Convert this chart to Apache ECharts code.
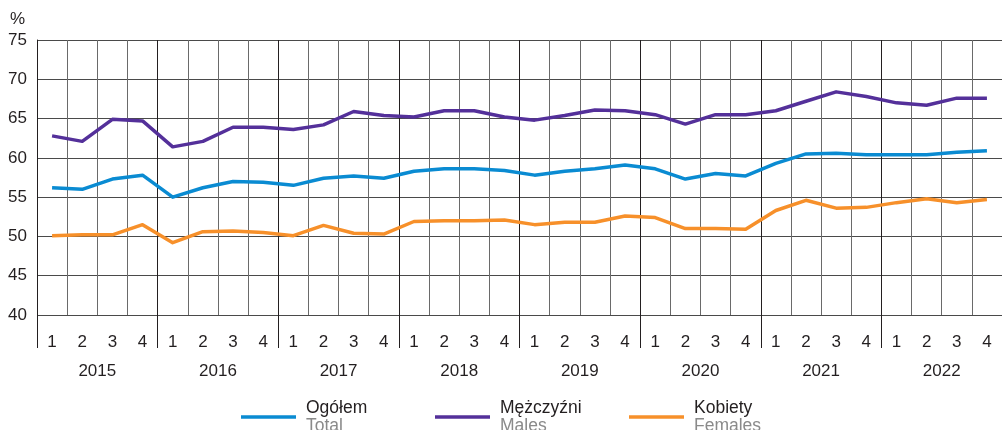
<!DOCTYPE html>
<html>
<head>
<meta charset="utf-8">
<script src="https://cdn.jsdelivr.net/npm/echarts@6/dist/echarts.min.js"></script>
<style>
html,body{margin:0;padding:0;background:#fff;}
#chart{width:1002px;height:430px;}
</style>
</head>
<body>
<div id="chart"></div>
<script>
var years = ['2015','2016','2017','2018','2019','2020','2021','2022'];
var quarters = ['1','2','3','4'];
var yTicks = [40,45,50,55,60,65,70,75];

var seriesNamesPl = ['Ogółem','Mężczyźni','Kobiety'];
var seriesNamesEn = ['Total','Males','Females'];

var total = [56.2,56.0,57.3,57.8,55.0,56.2,57.0,56.9,
             56.5,57.4,57.7,57.4,58.3,58.6,58.6,58.4,
             57.8,58.3,58.6,59.1,58.6,57.3,58.0,57.7,
             59.3,60.5,60.6,60.4,60.4,60.4,60.7,60.9];
var males = [62.8,62.1,64.9,64.7,61.4,62.1,63.9,63.9,
             63.6,64.2,65.9,65.4,65.2,66.0,66.0,65.2,
             64.8,65.4,66.1,66.0,65.5,64.3,65.5,65.5,
             66.0,67.2,68.4,67.8,67.0,66.7,67.6,67.6];
var females = [50.1,50.2,50.2,51.5,49.2,50.6,50.7,50.5,
               50.1,51.4,50.4,50.3,51.9,52.0,52.0,52.1,
               51.5,51.8,51.8,52.6,52.4,51.0,51.0,50.9,
               53.3,54.6,53.6,53.7,54.3,54.8,54.3,54.7];

var colors = ['#0a8bd2','#54309a','#f7902a'];

var categories = [];
years.forEach(function(y){ quarters.forEach(function(q){ categories.push(y + ' ' + q); }); });

var seriesData = [total, males, females];
var legendLefts = [241, 435, 629];

var chart = echarts.init(document.getElementById('chart'), null, {renderer:'canvas'});
var FONT = '"Liberation Sans", Arial, sans-serif';

var option = {
  animation: false,
  backgroundColor: '#ffffff',
  textStyle: {fontFamily: FONT},
  grid: {left: 37, right: -3, top: 40, bottom: 115, containLabel: false},
  graphic: [{
    type: 'text', left: 10, top: 11,
    style: {text: '%', fontSize: 17, fill: '#231f20', fontFamily: FONT}
  }],
  legend: seriesNamesPl.map(function(n, i){
    return {
      data: [n], left: legendLefts[i], top: 399, padding: 0,
      icon: 'rect', itemWidth: 55, itemHeight: 3.5,
      selectedMode: false,
      formatter: function(name){
        var k = seriesNamesPl.indexOf(name);
        return '{a|' + name + '}\n{b|' + seriesNamesEn[k] + '}';
      },
      textStyle: {
        fontFamily: FONT,
        rich: {
          a: {fontSize: 17.5, color: '#231f20', lineHeight: 18, padding: [0,0,0,5], fontFamily: FONT},
          b: {fontSize: 17.5, color: '#8a8a8a', lineHeight: 18, padding: [0,0,0,5], fontFamily: FONT}
        }
      }
    };
  }),
  xAxis: [{
    type: 'category',
    data: categories,
    boundaryGap: true,
    axisLine: {show: false},
    axisTick: {show: false},
    axisLabel: {
      interval: 0, margin: 19, fontSize: 17, color: '#231f20', fontFamily: FONT,
      formatter: function(v){ return v.split(' ')[1]; }
    },
    splitLine: {show: true, interval: 0, lineStyle: {color: '#6a6a6a', width: 1}}
  },{
    type: 'category',
    data: years,
    position: 'bottom',
    boundaryGap: true,
    axisLine: {show: false},
    axisTick: {show: true, interval: 0, length: 33, lineStyle: {color: '#231f20', width: 1}},
    axisLabel: {interval: 0, margin: 48, fontSize: 17, color: '#231f20', fontFamily: FONT},
    splitLine: {show: true, interval: 0, lineStyle: {color: '#231f20', width: 1}}
  }],
  yAxis: {
    type: 'value',
    min: yTicks[0], max: yTicks[yTicks.length-1], interval: 5,
    axisLine: {show: true, lineStyle: {color: '#231f20', width: 1}},
    axisTick: {show: false},
    axisLabel: {margin: 10, fontSize: 17, color: '#231f20', fontFamily: FONT},
    splitLine: {show: true, lineStyle: {color: '#4a4a4a', width: 1}}
  },
  series: seriesNamesPl.map(function(n, i){
    return {
      name: n, type: 'line', xAxisIndex: 0, data: seriesData[i],
      symbol: 'none', smooth: false,
      lineStyle: {color: colors[i], width: 3.5, join: 'round'},
      itemStyle: {color: colors[i]},
      z: 3
    };
  })
};
chart.setOption(option);
</script>
</body>
</html>
